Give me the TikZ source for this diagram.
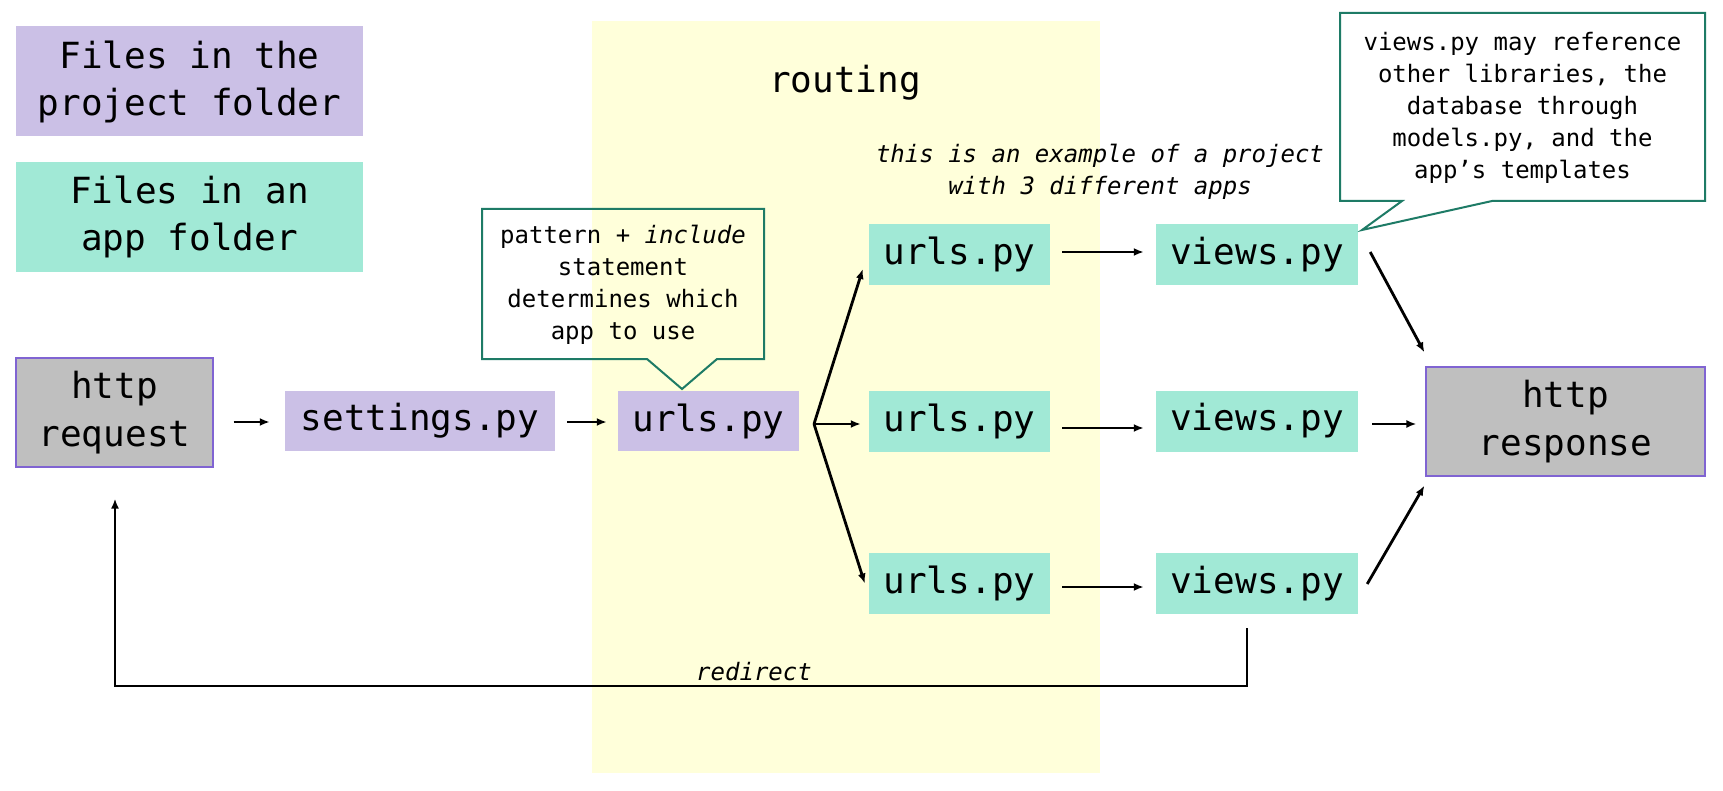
\documentclass[tikz,border=0pt]{standalone}
\usepackage{fontspec}
\setmainfont{DejaVu Sans Mono}
\usetikzlibrary{calc,arrows.meta}
\definecolor{projC}{RGB}{203,192,230}
\definecolor{appC}{RGB}{161,233,214}
\definecolor{bandC}{RGB}{255,255,218}
\definecolor{grayC}{RGB}{191,191,191}
\definecolor{edgeC}{RGB}{128,100,210}
\definecolor{calloutC}{RGB}{30,123,102}
\begin{document}
\begin{tikzpicture}[x=1pt,y=-1pt,
 box/.style={inner sep=0pt, align=center, font=\fontsize{36}{48}\selectfont},
 projbox/.style={box, fill=projC, minimum height=60pt},
 appbox/.style={box, fill=appC, minimum height=61pt},
 endbox/.style={box, fill=grayC, draw=edgeC, line width=1.2pt, minimum height=109pt},
 legbox/.style={inner sep=0pt, align=center, font=\fontsize{36}{47}\selectfont, minimum width=347pt, minimum height=110pt},
 note/.style={align=center, font=\fontsize{24}{32}\selectfont, inner sep=0pt},
 tip/.style={-{Latex[length=10pt,width=8pt]}},
 arr/.style={line width=2.8pt, tip},
 callout/.style={draw=calloutC, line width=2pt, line join=miter}
]
\useasboundingbox (0,0) rectangle (1723,791);
% routing band
\fill[bandC] (592,21) rectangle (1100,773);
\node[box] (routing) at (845,83) {routing};

% legend
\node[legbox, fill=projC] (legP) at (189.5,81.5) {Files in the\\project folder};
\node[legbox, fill=appC] (legT) at (189.5,217) {Files in an\\app folder};

% main nodes
\node[endbox, minimum width=197pt] (req) at (114.5,412.5) {http\\request};
\node[projbox, minimum width=270pt] (set) at (420,421) {settings.py};
\node[projbox, minimum width=181pt] (up) at (708.5,421) {urls.py};
\node[appbox, minimum width=181pt] (u1) at (959.5,254.5) {urls.py};
\node[appbox, minimum width=181pt] (u2) at (959.5,421) {urls.py};
\node[appbox, minimum width=181pt] (u3) at (959.5,583.5) {urls.py};
\node[appbox, minimum width=202pt] (v1) at (1257,254.5) {views.py};
\node[appbox, minimum width=202pt] (v2) at (1257,421) {views.py};
\node[appbox, minimum width=202pt] (v3) at (1257,583.5) {views.py};
\node[endbox, minimum width=279pt] (resp) at (1565.5,421.5) {http\\response};

% callout 1
\draw[callout] (482,209) -- (764,209) -- (764,359) -- (717,359) -- (682,389) -- (647,359) -- (482,359) -- cycle;
\node[note] (c1) at (623,285) {pattern \textit{+ include}\\statement\\determines which\\app to use};

% callout 2
\draw[callout, fill=white] (1340,13) -- (1705,13) -- (1705,201) -- (1492,201) -- (1362,230) -- (1402,201) -- (1340,201) -- cycle;
\node[note] (c2) at (1522.5,108) {views.py may reference\\other libraries, the\\database through\\models.py, and the\\app’s templates};

% italic note
\node[note, font=\fontsize{24}{32}\selectfont\itshape] (ex) at (1100,172) {this is an example of a project\\with 3 different apps};

% connectors
\draw[arr] ($(req.east)+(20,9.5)$) -- ($(set.west)+(-15,1)$);
\draw[arr] ($(set.east)+(12,1)$) -- ($(up.west)+(-11,1)$);
\coordinate (br) at (814,424);
\draw[arr] (br) -- ($(u1.west)+(-6,14.5)$);
\draw[arr] (br) -- ($(u2.west)+(-8,3)$);
\draw[arr] (br) -- ($(u3.west)+(-4,0)$);
\draw[arr] ($(u1.east)+(12,-2.5)$) -- ($(v1.west)+(-12,-2.5)$);
\draw[arr] ($(u2.east)+(12,7)$) -- ($(v2.west)+(-12,7)$);
\draw[arr] ($(u3.east)+(12,3.5)$) -- ($(v3.west)+(-12,3.5)$);
\draw[arr] ($(v1.east)+(12,-2.5)$) -- ($(resp.north west)+(-1,-14)$);
\draw[arr] ($(v2.east)+(14,3)$) -- ($(resp.west)+(-9,2.5)$);
\draw[arr] ($(v3.east)+(9,0.5)$) -- ($(resp.south west)+(-1,9)$);
\coordinate (rd) at (1247,686);
\draw[arr, line join=miter] ($(v3.south)+(-10,14)$) -- (rd) -| ($(req.south)+(0.5,31)$);
\node[note, font=\fontsize{24}{32}\selectfont\itshape, anchor=base] (redir) at (754,680) {redirect};
\end{tikzpicture}
\end{document}
